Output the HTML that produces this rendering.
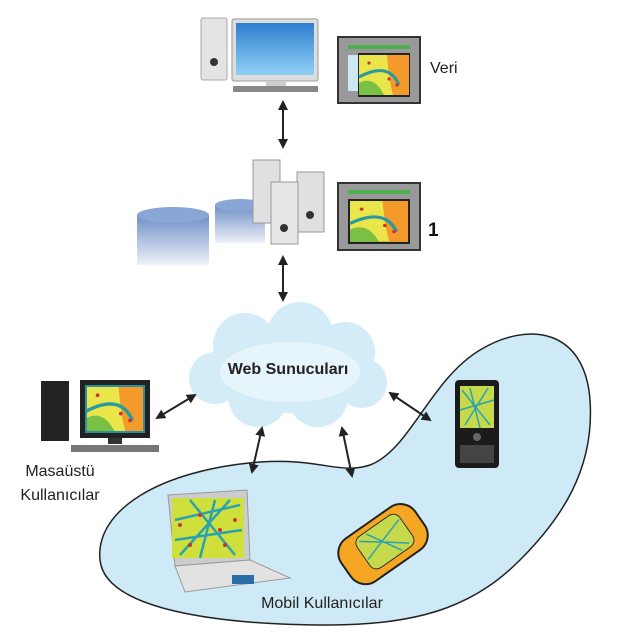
<!DOCTYPE html>
<html><head><meta charset="utf-8"><style>
html,body{margin:0;padding:0;background:#fff;}
svg{display:block;}
text{font-family:"Liberation Sans",sans-serif;}
</style></head><body>
<svg width="641" height="641" viewBox="0 0 641 641" xmlns="http://www.w3.org/2000/svg">
<defs>
<marker id="a" viewBox="0 0 10 10" refX="8" refY="5" markerWidth="5" markerHeight="5" orient="auto-start-reverse"><path d="M0,0L10,5L0,10z" fill="#222"/></marker>
<linearGradient id="cyl" x1="0" y1="0" x2="0" y2="1"><stop offset="0" stop-color="#6f8fc6"/><stop offset="1" stop-color="#eef2f9"/></linearGradient>
<linearGradient id="scr" x1="0" y1="0" x2="0" y2="1"><stop offset="0" stop-color="#2f7fd0"/><stop offset="1" stop-color="#8fd0f4"/></linearGradient>
<g id="map">
<rect x="0" y="0" width="50" height="40" fill="#e8e64a"/>
<path d="M28 0H50V40H34Q30 25 28 0z" fill="#f39a2b"/>
<path d="M0 28Q15 20 25 40H0z" fill="#7bc043"/>
<path d="M0 22Q15 14 25 16T40 30" stroke="#2a9aa0" stroke-width="3" fill="none"/>
<circle cx="10" cy="8" r="1.6" fill="#c33"/><circle cx="30" cy="24" r="1.6" fill="#c33"/><circle cx="38" cy="30" r="1.6" fill="#c33"/>
</g>
</defs>

<!-- blob -->
<path d="M100,560 C95,510 160,470 260,462 C320,458 340,475 370,465 C410,450 430,380 480,350 C530,320 585,330 590,400 C595,470 560,520 520,560 C480,600 430,625 330,625 C220,625 105,610 100,560z" fill="#cdeaf6" stroke="#222" stroke-width="1.5"/>

<!-- cloud -->
<g fill="#d4ecf8">
<ellipse cx="290" cy="375" rx="85" ry="38"/>
<circle cx="245" cy="345" r="32"/><circle cx="300" cy="335" r="33"/><circle cx="345" cy="352" r="30"/>
<circle cx="215" cy="378" r="26"/><circle cx="258" cy="397" r="30"/><circle cx="318" cy="397" r="30"/><circle cx="362" cy="383" r="25"/>
</g>
<ellipse cx="290" cy="372" rx="70" ry="30" fill="#e6f4fb"/>
<text x="288" y="374" text-anchor="middle" font-size="16" font-weight="bold" fill="#222">Web Sunucuları</text>

<!-- top PC -->
<rect x="201" y="18" width="26" height="62" rx="2" fill="#e3e3e3" stroke="#aaa"/>
<circle cx="214" cy="62" r="4" fill="#333"/>
<rect x="232" y="19" width="86" height="62" rx="2" fill="#ddd" stroke="#999"/>
<rect x="236" y="23" width="78" height="52" fill="url(#scr)"/>
<rect x="266" y="81" width="20" height="5" fill="#ccc"/>
<rect x="233" y="86" width="85" height="6" fill="#888"/>

<rect x="338" y="37" width="82" height="66" fill="#999" stroke="#333" stroke-width="2"/>
<rect x="348" y="45" width="62" height="4" fill="#4caf50"/>
<rect x="348" y="55" width="10" height="36" fill="#cde7f5"/>
<rect x="358" y="53" width="52" height="44" fill="#222"/>
<use href="#map" x="359" y="55"/>
<text x="430" y="73" font-size="16" fill="#222">Veri</text>

<line x1="283" y1="102" x2="283" y2="147" stroke="#222" stroke-width="2" marker-start="url(#a)" marker-end="url(#a)"/>

<!-- DB + servers -->
<rect x="137" y="215" width="72" height="50" fill="url(#cyl)"/><ellipse cx="173" cy="215" rx="36" ry="8" fill="#89a6d6"/>
<rect x="215" y="205" width="50" height="38" fill="url(#cyl)"/><ellipse cx="240" cy="205" rx="25" ry="6" fill="#89a6d6"/>
<rect x="253" y="160" width="27" height="63" fill="#e0e0e0" stroke="#999"/>
<rect x="297" y="172" width="27" height="60" fill="#e0e0e0" stroke="#999"/><circle cx="310" cy="215" r="4" fill="#333"/>
<rect x="271" y="182" width="27" height="62" fill="#e6e6e6" stroke="#999"/><circle cx="284" cy="228" r="4" fill="#333"/>

<rect x="338" y="183" width="82" height="67" fill="#999" stroke="#333" stroke-width="2"/>
<rect x="348" y="190" width="62" height="4" fill="#4caf50"/>
<rect x="348" y="199" width="62" height="45" fill="#222"/>
<g transform="translate(350,201) scale(1.16,1.02)"><use href="#map"/></g>
<text x="428" y="236" font-size="19" font-weight="bold" fill="#111">1</text>

<line x1="283" y1="257" x2="283" y2="300" stroke="#222" stroke-width="2" marker-start="url(#a)" marker-end="url(#a)"/>

<!-- desktop user -->
<rect x="41" y="381" width="28" height="60" fill="#222"/>
<rect x="80" y="380" width="70" height="58" fill="#222"/>
<g transform="translate(86,386) scale(1.16,1.15)"><use href="#map"/></g>
<rect x="86" y="386" width="58" height="46" fill="none" stroke="#2a8fa0" stroke-width="2"/>
<rect x="108" y="438" width="14" height="6" fill="#333"/>
<rect x="71" y="445" width="88" height="7" fill="#777"/>
<text x="60" y="476" text-anchor="middle" font-size="16" fill="#222">Masaüstü</text>
<text x="60" y="500" text-anchor="middle" font-size="16" fill="#222">Kullanıcılar</text>

<line x1="157" y1="418" x2="195" y2="395" stroke="#222" stroke-width="2" marker-start="url(#a)" marker-end="url(#a)"/>
<line x1="262" y1="428" x2="252" y2="472" stroke="#222" stroke-width="2" marker-start="url(#a)" marker-end="url(#a)"/>
<line x1="342" y1="428" x2="352" y2="476" stroke="#222" stroke-width="2" marker-start="url(#a)" marker-end="url(#a)"/>
<line x1="390" y1="393" x2="430" y2="420" stroke="#222" stroke-width="2" marker-start="url(#a)" marker-end="url(#a)"/>

<!-- phone -->
<rect x="455" y="380" width="44" height="88" rx="4" fill="#1b1b1b"/>
<rect x="460" y="386" width="34" height="42" fill="#c6d94a"/>
<path d="M462 390L490 425M470 388L480 428M460 410L494 400M465 425L488 388" stroke="#2aa3b0" stroke-width="1.5"/>
<circle cx="477" cy="437" r="4" fill="#666"/>
<rect x="460" y="445" width="34" height="18" fill="#444"/>

<!-- laptop -->
<path d="M168,495 L247,490 L250,560 L175,566z" fill="#ccc" stroke="#999"/>
<rect x="172" y="498" width="72" height="60" fill="#cfe03c"/>
<path d="M175 520L240 505M180 555L230 500M190 500L235 555M175 540L242 530M200 558L215 500" stroke="#2aa3b0" stroke-width="2.5"/>
<g fill="#c33"><circle cx="180" cy="525" r="2"/><circle cx="200" cy="515" r="2"/><circle cx="220" cy="530" r="2"/><circle cx="235" cy="520" r="2"/><circle cx="190" cy="545" r="2"/><circle cx="225" cy="545" r="2"/></g>
<path d="M175,566 L250,560 L290,578 L185,592z" fill="#e2e2e2" stroke="#999"/>
<rect x="232" y="575" width="22" height="9" fill="#2a6fa8"/>

<!-- GPS -->
<g transform="rotate(-35 380 545)">
<rect x="338" y="520" width="90" height="52" rx="18" fill="#f5a623" stroke="#222" stroke-width="2"/>
<rect x="360" y="526" width="52" height="38" rx="8" fill="#c6d94a" stroke="#333"/>
<path d="M365 530L405 560M375 528L395 562M362 550L410 535" stroke="#2aa3b0" stroke-width="1.5"/>
</g>

<text x="322" y="608" text-anchor="middle" font-size="16" fill="#222">Mobil Kullanıcılar</text>
</svg>
</body></html>
